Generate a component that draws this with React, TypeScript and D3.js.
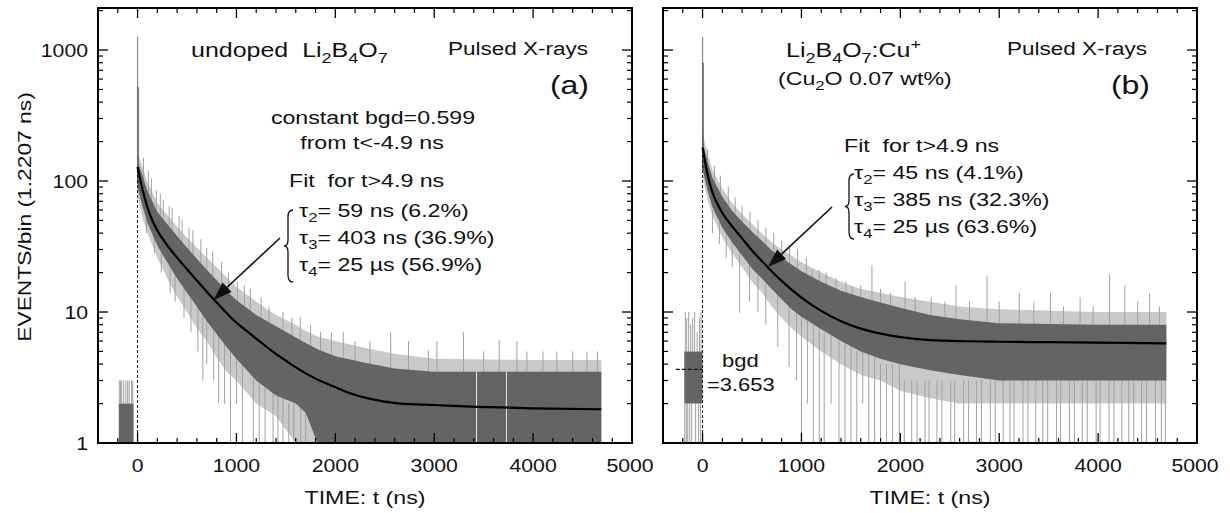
import React from "react";
import * as d3 from "d3";

// ---------- values ----------
const xTickValues = [0, 1000, 2000, 3000, 4000, 5000];
const yTickValues = [1, 10, 100, 1000];
const xDomain: [number, number] = [-400, 5000];
const yDomain: [number, number] = [1, 2093];

// fitted decay curves, [t (ns), events/bin]
const fitA: [number, number][] = [
  [0, 128], [20, 108], [50, 86], [100, 63], [150, 50], [200, 42], [280, 33.8], [400, 26],
  [500, 21.2], [600, 17.4], [700, 14.3], [765, 12.6], [850, 10.8], [970, 8.7], [1100, 7.2],
  [1308, 5.4], [1450, 4.5], [1645, 3.6], [1800, 3.1], [1985, 2.7], [2150, 2.4], [2320, 2.2],
  [2655, 2.0], [3000, 1.95], [3432, 1.89], [4000, 1.84], [4690, 1.81],
];
const fitB: [number, number][] = [
  [0, 180], [20, 148], [50, 112], [100, 82], [150, 67], [200, 57], [300, 45], [400, 36.5],
  [500, 29.5], [659, 22], [800, 17.3], [1000, 12.9], [1200, 10.2], [1400, 8.5], [1600, 7.47],
  [1800, 6.83], [2000, 6.43], [2300, 6.1], [2700, 5.98], [3000, 5.93], [3500, 5.88],
  [4000, 5.83], [4690, 5.77],
];

// histogram band: [t, low dense, high dense, low sparse, high sparse]
const bandA: number[][] = [
  [2, 88, 142, 75, 165], [50, 64, 110, 52, 128], [100, 48, 84, 40, 98], [200, 32, 58, 26, 68],
  [300, 24, 47, 18, 55], [400, 18, 38, 13, 45], [500, 14, 31, 10, 37], [600, 11, 25.5, 7.5, 31],
  [700, 8.5, 21, 6, 26], [800, 6.8, 17.5, 4.5, 22], [900, 5.4, 14.5, 3.5, 18.5], [1000, 4.4, 12.3, 3, 15.5],
  [1200, 3, 9.5, 2, 12], [1400, 2.3, 7.8, 1.6, 9.5], [1600, 2, 6.4, 1, 8], [1700, 1.7, 5.8, 1, 7.2],
  [1820, 1, 5.2, 1, 6.5], [2000, 1, 4.6, 1, 6], [2300, 1, 4.1, 1, 5.3], [2600, 1, 3.7, 1, 4.8],
  [3000, 1, 3.5, 1, 4.4], [4000, 1, 3.5, 1, 4.3], [4690, 1, 3.5, 1, 4.3],
];
const bandB: number[][] = [
  [2, 122, 198, 105, 230], [50, 85, 140, 72, 162], [100, 63, 106, 54, 122], [200, 44, 76, 37, 88],
  [300, 34, 59, 28, 68], [400, 27, 49, 22, 56], [500, 21.5, 41, 17, 47], [600, 18, 35, 14, 40],
  [700, 15, 29.5, 11, 34], [800, 12.5, 26, 9, 30], [900, 10.5, 23, 7.5, 27], [1000, 9.2, 20.5, 6.5, 24],
  [1200, 7.4, 17, 5, 20], [1400, 6, 14.5, 4, 17], [1600, 5, 13, 3.3, 15], [1800, 4.4, 11.8, 3, 14],
  [2000, 4, 10.8, 2.5, 13], [2300, 3.6, 9.5, 2.2, 12], [2600, 3.3, 8.8, 2, 11], [3000, 3, 8.2, 2, 10.5],
  [4000, 3, 8, 2, 10], [4690, 3, 8, 2, 10],
];

// pre-trigger background bins: [t, low, high]
const preA: number[][] = [[-190, 1, 2], [-40, 1, 2]];
const preB: number[][] = [[-185, 2, 5], [-2, 2, 5]];

// single bins sticking out of the band: [t, from, to]
const spikesA: number[][] = [
  [-185, 2, 3], [-172, 2, 3], [-160, 2, 3], [-140, 2, 3], [-118, 2, 3], [-100, 2, 3], [-85, 2, 3], [-60, 2, 3], [-48, 2, 3],
  [60, 100, 150], [110, 80, 120], [140, 70, 105], [190, 55, 85], [230, 50, 80], [260, 45, 72], [320, 40, 64],
  [350, 35, 62], [420, 30, 54], [450, 28, 50], [520, 24, 44], [560, 22, 42], [640, 18, 36], [700, 16, 31], [760, 14, 29],
  [90, 40, 60], [170, 28, 40], [240, 20, 32], [330, 14, 25], [380, 12, 22], [470, 9, 16], [540, 7, 13], [610, 5, 11],
  [660, 3, 10], [700, 4, 9], [770, 3, 8], [820, 2, 7], [880, 2, 6], [940, 1, 6], [1000, 2, 5], [1060, 1, 5],
  [1170, 1, 4], [1230, 1, 4], [1290, 1, 3], [1370, 1, 3], [1420, 1, 3], [1470, 1, 3], [1530, 1, 2], [1580, 1, 2],
  [1650, 1, 2], [1700, 1, 2],
  [850, 14, 24], [920, 12, 20], [1010, 10, 17], [1080, 9, 16], [1140, 8, 15], [1250, 7, 13], [1330, 6, 11],
  [1470, 6, 10], [1560, 5, 9], [1645, 5, 9.2], [1750, 4, 8], [1850, 4, 7], [1960, 4, 7], [2080, 4, 7], [2200, 4, 6],
  [2350, 3, 6], [2560, 3, 7], [2740, 3, 6], [2941, 3, 5.1], [3027, 3, 6], [3296, 3, 7], [3500, 3, 5], [3657, 3, 6.1],
  [3836, 3, 6], [3937, 3, 5], [4100, 3, 5], [4240, 3, 5], [4400, 3, 5], [4544, 3, 5], [4650, 3, 5],
];
const spikesB: number[][] = [
  [-175, 5, 10], [-160, 5, 9], [-140, 5, 10], [-120, 5, 8], [-100, 5, 9], [-80, 5, 10], [-55, 5, 7], [-30, 5, 9], [-15, 5, 10],
  [-180, 1, 2], [-165, 1, 2], [-150, 1, 2], [-130, 1, 2], [-110, 1, 2], [-70, 1, 2], [-40, 1, 2], [-20, 1, 2],
  [50, 140, 175], [120, 95, 130], [180, 80, 110], [260, 62, 90], [330, 55, 75], [400, 46, 65], [480, 40, 58],
  [560, 33, 50], [640, 29, 44], [720, 26, 40], [800, 23, 35], [880, 21, 32], [960, 19, 30], [1050, 17, 26],
  [1110, 15, 21], [1180, 15, 21], [1250, 14, 20], [1350, 13, 18], [1450, 12, 17], [1513, 12, 15.6], [1600, 11, 16],
  [1713, 11, 22.8], [1800, 11, 15], [1900, 10, 14], [2048, 10, 17], [2150, 10, 13], [2312, 9, 13], [2450, 9, 12],
  [2563, 9, 16], [2700, 8.5, 12], [2877, 8, 19], [3000, 8, 12], [3203, 8, 14], [3350, 8, 12], [3518, 8, 14],
  [3650, 8, 11], [3818, 8, 13], [3950, 8, 11], [4116, 8, 19.5], [4270, 8, 16], [4400, 8, 12], [4521, 8, 14], [4620, 8, 11],
  [100, 40, 60], [170, 33, 48], [240, 26, 40], [300, 22, 34], [375, 9.8, 30], [475, 12, 24], [560, 10, 20],
  [640, 8, 17], [760, 5.4, 14], [875, 3.8, 12], [950, 3, 11], [1000, 1, 10], [1060, 2, 9], [1120, 1, 8],
  [1180, 1, 8], [1230, 1, 7], [1300, 2, 7], [1380, 1, 6], [1440, 1, 6], [1500, 1, 6], [1560, 1, 5], [1620, 2, 5],
  [1680, 1, 5], [1740, 1, 5], [1800, 1, 4], [1860, 1, 4], [1920, 1, 4], [1990, 1, 4],
  [2040, 1, 3], [2115, 1, 3], [2170, 1, 3], [2250, 1, 3], [2290, 1, 3], [2370, 1, 3], [2420, 1, 3], [2510, 1, 3],
  [2550, 1, 3], [2640, 1, 3], [2690, 1, 3], [2770, 1, 3], [2820, 1, 3], [2910, 1, 3], [2960, 1, 3], [3040, 1, 3],
  [3110, 1, 3], [3150, 1, 3], [3240, 1, 3], [3290, 1, 3], [3370, 1, 3], [3440, 1, 3], [3490, 1, 3], [3580, 1, 3],
  [3620, 1, 3], [3710, 1, 3], [3760, 1, 3], [3840, 1, 3], [3890, 1, 3], [3980, 1, 3], [4020, 1, 3], [4110, 1, 3],
  [4160, 1, 3], [4240, 1, 3], [4310, 1, 3], [4360, 1, 3], [4440, 1, 3], [4490, 1, 3], [4580, 1, 3], [4640, 1, 3], [4680, 1, 3],
];

// prompt peak at t = 0: [t, base, light top, dark top]
const peakA = [0, 95, 1260, 520];
const peakB = [0, 120, 1260, 800];

// empty bins cutting the late band of (a)
const gapsA = [3428, 3730];
// constant background level of (b) and its span
const bgdB = 3.653;
const bgdSpanB = [-270, 0];

// ---------- layout ----------
const W = 1230;
const H = 513;
const TOP = 8;
const BOTTOM = 443;
const FONT = "'Liberation Sans', Arial, Helvetica, sans-serif";

type Seg = string | { s: string; sub?: boolean; sup?: boolean };

// text with sub/superscripts; glyphs are stretched a bit wider like the original
const Txt = ({
  x, y, size = 19, sx = 1.22, anchor = "start", rotate = 0, segs,
}: { x: number; y: number; size?: number; sx?: number; anchor?: string; rotate?: number; segs: Seg[] }) => {
  let cur = 0;
  const parts = segs.map((g, i) => {
    const s = typeof g === "string" ? g : g.s;
    const target = typeof g === "string" ? 0 : g.sub ? size * 0.28 : g.sup ? -size * 0.4 : 0;
    const dy = target - cur;
    cur = target;
    const fs = typeof g === "string" ? undefined : size * 0.72;
    return (
      <tspan key={i} dy={dy !== 0 ? dy : undefined} fontSize={fs}>
        {s}
      </tspan>
    );
  });
  return (
    <text
      transform={`translate(${x},${y}) rotate(${rotate}) scale(${sx},1)`}
      fontSize={size}
      fontFamily={FONT}
      textAnchor={anchor}
      fill="#111"
    >
      {parts}
    </text>
  );
};

const sub = (s: string) => ({ s, sub: true });
const sup = (s: string) => ({ s, sup: true });

const Brace = ({ x, y0, y1 }: { x: number; y0: number; y1: number }) => {
  const m = (y0 + y1) / 2;
  const d = `M${x + 9},${y0} Q${x + 4},${y0} ${x + 4},${y0 + 7} L${x + 4},${m - 6} Q${x + 4},${m} ${x},${m}
    Q${x + 4},${m} ${x + 4},${m + 6} L${x + 4},${y1 - 7} Q${x + 4},${y1} ${x + 9},${y1}`;
  return <path d={d} fill="none" stroke="#111" strokeWidth={1.3} />;
};

const Arrow = ({ from, to }: { from: [number, number]; to: [number, number] }) => {
  const dx = to[0] - from[0];
  const dy = to[1] - from[1];
  const len = Math.hypot(dx, dy);
  const ux = dx / len, uy = dy / len;
  const hl = 19, hw = 6.5;
  const bx = to[0] - ux * hl, by = to[1] - uy * hl;
  const pts = `${to[0]},${to[1]} ${bx - uy * hw},${by + ux * hw} ${bx + uy * hw},${by - ux * hw}`;
  return (
    <g>
      <line x1={from[0]} y1={from[1]} x2={bx} y2={by} stroke="#111" strokeWidth={1.6} />
      <polygon points={pts} fill="#111" />
    </g>
  );
};

type PanelProps = {
  id: string; x0: number; x1: number; fit: [number, number][]; band: number[][]; pre: number[][];
  spikes: number[][]; peak: number[]; gaps: number[]; yLabels: boolean;
};

const Panel = ({ id, x0, x1, fit, band, pre, spikes, peak, gaps, yLabels }: PanelProps) => {
  const x = d3.scaleLinear().domain(xDomain).range([x0, x1]);
  const y = d3.scaleLog().domain(yDomain).range([BOTTOM, TOP]);
  const xMinor = d3.range(-200, 5000, 200).filter((v) => v % 1000 !== 0);
  const yMinor = yTickValues.flatMap((d) => d3.range(2, 10).map((k) => d * k)).filter((v) => v < yDomain[1]);

  const area = (lo: number, hi: number) =>
    d3.area<number[]>().x((d) => x(d[0])).y0((d) => y(d[lo])).y1((d) => y(d[hi]));
  const line = d3.line<[number, number]>().x((d) => x(d[0])).y((d) => y(d[1])).curve(d3.curveMonotoneX);

  return (
    <g>
      <defs>
        <clipPath id={`clip-${id}`}>
          <rect x={x0} y={TOP} width={x1 - x0} height={BOTTOM - TOP} />
        </clipPath>
      </defs>
      <g clipPath={`url(#clip-${id})`}>
        <path d={area(3, 4)(band) || ""} fill="#c9c9c9" />
        {spikes.map((s, i) => (
          <line key={i} x1={x(s[0])} x2={x(s[0])} y1={y(s[1])} y2={y(s[2])} stroke="#a0a0a0" strokeWidth={1} />
        ))}
        <path d={area(1, 2)(pre) || ""} fill="#646464" />
        <path d={area(1, 2)(band) || ""} fill="#646464" />
        <line x1={x(peak[0])} x2={x(peak[0])} y1={y(peak[1])} y2={y(peak[2])} stroke="#8a8a8a" strokeWidth={1.2} />
        <line x1={x(peak[0]) + 0.5} x2={x(peak[0]) + 0.5} y1={y(peak[1])} y2={y(peak[3])} stroke="#5a5a5a" strokeWidth={1.4} />
        {gaps.map((g, i) => (
          <line key={i} x1={x(g)} x2={x(g)} y1={y(1)} y2={y(3.5)} stroke="#e8e8e8" strokeWidth={1} />
        ))}
        <line x1={x(0)} x2={x(0)} y1={y(1)} y2={y(fit[0][1])} stroke="#111" strokeWidth={1} strokeDasharray="3,2" />
        <path d={line(fit) || ""} fill="none" stroke="#000" strokeWidth={2.2} />
      </g>

      {/* frame */}
      <rect x={x0} y={TOP} width={x1 - x0} height={BOTTOM - TOP} fill="none" stroke="#000" strokeWidth={2} />

      {/* x ticks, bottom and top, pointing inward */}
      {xTickValues.map((v) => (
        <g key={`xm${v}`}>
          <line x1={x(v)} x2={x(v)} y1={BOTTOM} y2={BOTTOM - 10} stroke="#000" strokeWidth={1.3} />
          <line x1={x(v)} x2={x(v)} y1={TOP} y2={TOP + 10} stroke="#000" strokeWidth={1.3} />
        </g>
      ))}
      {xMinor.map((v) => (
        <g key={`xn${v}`}>
          <line x1={x(v)} x2={x(v)} y1={BOTTOM} y2={BOTTOM - 5} stroke="#000" strokeWidth={1.2} />
          <line x1={x(v)} x2={x(v)} y1={TOP} y2={TOP + 5} stroke="#000" strokeWidth={1.2} />
        </g>
      ))}
      {/* y ticks, left and right */}
      {yTickValues.map((v) => (
        <g key={`ym${v}`}>
          <line x1={x0} x2={x0 + 10} y1={y(v)} y2={y(v)} stroke="#000" strokeWidth={1.3} />
          <line x1={x1} x2={x1 - 10} y1={y(v)} y2={y(v)} stroke="#000" strokeWidth={1.3} />
        </g>
      ))}
      {yMinor.map((v) => (
        <g key={`yn${v}`}>
          <line x1={x0} x2={x0 + 5} y1={y(v)} y2={y(v)} stroke="#000" strokeWidth={1.2} />
          <line x1={x1} x2={x1 - 5} y1={y(v)} y2={y(v)} stroke="#000" strokeWidth={1.2} />
        </g>
      ))}

      {xTickValues.map((v) => (
        <Txt key={`xl${v}`} x={v === 5000 ? x(v) - 2 : x(v)} y={472} size={18} sx={1.18} anchor="middle" segs={[String(v)]} />
      ))}
      {yLabels &&
        yTickValues.map((v) => (
          <Txt key={`yl${v}`} x={x0 - 10} y={y(v) + 7} size={18} sx={1.18} anchor="end" segs={[String(v)]} />
        ))}
      <Txt x={(x0 + x1) / 2} y={504} anchor="middle" segs={["TIME: t (ns)"]} />
    </g>
  );
};

export default function App() {
  const xa = d3.scaleLinear().domain(xDomain).range([98, 632]);
  const xb = d3.scaleLinear().domain(xDomain).range([663, 1197]);
  const ys = d3.scaleLog().domain(yDomain).range([BOTTOM, TOP]);
  return (
    <svg width={W} height={H} style={{ position: "absolute", left: 0, top: 0, background: "#fff" }}>
      <rect width={W} height={H} fill="#fff" />
      <Panel id="a" x0={98} x1={632} fit={fitA} band={bandA} pre={preA} spikes={spikesA} peak={peakA} gaps={gapsA} yLabels />
      <Panel id="b" x0={663} x1={1197} fit={fitB} band={bandB} pre={preB} spikes={spikesB} peak={peakB} gaps={[]} yLabels={false} />

      <Txt x={31} y={217} rotate={-90} anchor="middle" sx={1.2} segs={["EVENTS/bin (1.2207 ns)"]} />

      {/* panel (a) annotations */}
      <Txt x={191} y={57} size={20} sx={1.25}
        segs={["undoped\u00a0 Li", sub("2"), "B", sub("4"), "O", sub("7")]} />
      <Txt x={448} y={55} size={18} sx={1.25} segs={["Pulsed X-rays"]} />
      <Txt x={589} y={94} size={25} sx={1.28} anchor="end" segs={["(a)"]} />
      <Txt x={373} y={124} anchor="middle" segs={["constant bgd=0.599"]} />
      <Txt x={372} y={149} anchor="middle" segs={["from t<-4.9 ns"]} />
      <Txt x={289} y={187} segs={["Fit\u00a0 for t>4.9 ns"]} />
      <Brace x={284} y0={210} y1={282} />
      <Txt x={299} y={217} segs={["τ", sub("2"), "= 59 ns (6.2%)"]} />
      <Txt x={299} y={244} segs={["τ", sub("3"), "= 403 ns (36.9%)"]} />
      <Txt x={299} y={271} segs={["τ", sub("4"), "= 25 µs (56.9%)"]} />
      <Arrow from={[280, 238]} to={[xa(765), ys(12.3)]} />

      {/* panel (b) annotations */}
      <Txt x={786} y={57} size={20} sx={1.25}
        segs={["Li", sub("2"), "B", sub("4"), "O", sub("7"), ":Cu", sup("+")]} />
      <Txt x={778} y={85} size={18.5} sx={1.25} segs={["(Cu", sub("2"), "O 0.07 wt%)"]} />
      <Txt x={1007} y={55} size={18} sx={1.25} segs={["Pulsed X-rays"]} />
      <Txt x={1150} y={94} size={25} sx={1.28} anchor="end" segs={["(b)"]} />
      <Txt x={844} y={152} segs={["Fit\u00a0 for t>4.9 ns"]} />
      <Brace x={845} y0={174} y1={239} />
      <Txt x={854} y={179} segs={["τ", sub("2"), "= 45 ns (4.1%)"]} />
      <Txt x={854} y={206} segs={["τ", sub("3"), "= 385 ns (32.3%)"]} />
      <Txt x={854} y={233} segs={["τ", sub("4"), "= 25 µs (63.6%)"]} />
      <Arrow from={[832, 207]} to={[xb(659), ys(22)]} />

      <line x1={xb(bgdSpanB[0])} x2={xb(bgdSpanB[1])} y1={ys(bgdB)} y2={ys(bgdB)} stroke="#111" strokeWidth={1.3} strokeDasharray="4,2" />
      <Txt x={722} y={367} size={18} segs={["bgd"]} />
      <Txt x={707} y={391} size={18} segs={["=3.653"]} />
    </svg>
  );
}
